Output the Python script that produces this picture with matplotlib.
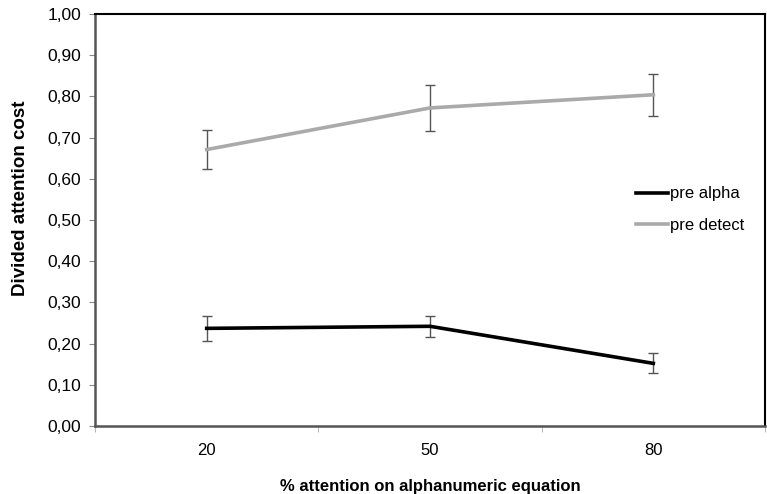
import matplotlib
matplotlib.use("Agg")
import matplotlib.pyplot as plt
import numpy as np
from matplotlib.lines import Line2D

categories = ["20", "50", "80"]
pre_alpha = [0.237, 0.242, 0.152]
pre_alpha_err = [0.030, 0.026, 0.024]
pre_detect = [0.671, 0.772, 0.804]
pre_detect_err = [0.048, 0.055, 0.051]
yticks = [0.0, 0.1, 0.2, 0.3, 0.4, 0.5, 0.6, 0.7, 0.8, 0.9, 1.0]

plt.rcParams['font.family'] = ['Liberation Sans', 'DejaVu Sans']

fig = plt.figure(figsize=(7.67, 4.94), dpi=100)
ax = fig.add_axes([95/767, 1-426/494, (765-95)/767, (426-14)/494])

x = np.arange(len(categories))
ax.errorbar(x, pre_alpha, yerr=pre_alpha_err, color='black', lw=2.6,
            ecolor='#555555', elinewidth=1.0, capsize=3.5, capthick=1.0,
            label='pre alpha', zorder=3)
ax.errorbar(x, pre_detect, yerr=pre_detect_err, color='#aaaaaa', lw=2.6,
            ecolor='#555555', elinewidth=1.0, capsize=3.5, capthick=1.0,
            label='pre detect', zorder=3)

ax.set_xlim(-0.5, 2.5)
ax.set_ylim(0, 1)
ax.set_yticks(yticks)
ax.set_yticklabels([f"{v:.2f}".replace('.', ',') for v in yticks], fontsize=12.5)
ax.set_xticks(x)
ax.set_xticklabels(categories, fontsize=12)
ax.tick_params(axis='x', which='major', length=0, pad=12)
ax.set_xticks([-0.5, 0.5, 1.5, 2.5], minor=True)
ax.tick_params(axis='x', which='minor', length=4, color='#aaaaaa', direction='out')
ax.tick_params(axis='y', length=4, color='#888888', direction='out', pad=6)

for s in ['left', 'bottom']:
    ax.spines[s].set_color('#555555')
    ax.spines[s].set_linewidth(1.8)
for s in ['top', 'right']:
    ax.spines[s].set_color('black')
    ax.spines[s].set_linewidth(1.5)

ax.set_ylabel('Divided attention cost', fontsize=13.5, fontweight='bold')
ax.yaxis.set_label_coords((29 - 95) / 670, (426 - 198) / 412)
ax.set_xlabel('% attention on alphanumeric equation', fontsize=12, fontweight='bold', labelpad=15)

hs = [Line2D([], [], color='black', lw=2.6), Line2D([], [], color='#aaaaaa', lw=2.6)]
ax.legend(hs, ['pre alpha', 'pre detect'], loc='center left', bbox_to_anchor=(0.785, 0.525),
          frameon=False, fontsize=12, handlelength=1.9, handletextpad=0.15, labelspacing=1.0)

fig.savefig('out.png', dpi=100)
